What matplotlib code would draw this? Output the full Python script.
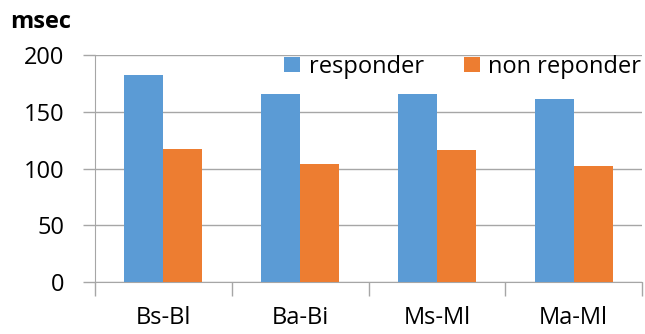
import numpy as np
import matplotlib
matplotlib.use("Agg")
import matplotlib.pyplot as plt

# 데이터
categories = ['Bs-Bl', 'Ba-Bi', 'Ms-Ml', 'Ma-Ml']
responder = [182, 166, 166, 161]
non_responder = [117, 104, 116, 102]

plt.rcParams['font.family'] = ['Open Sans', 'DejaVu Sans']

fig = plt.figure(figsize=(6.45, 3.34), dpi=100)
ax = fig.add_axes([95 / 645, 52 / 334, (642 - 95) / 645, (282 - 55) / 334])

x = np.arange(len(categories))
w = 0.285
ax.bar(x - w / 2, responder, w, color='#5B9BD5', label='responder', zorder=3)
ax.bar(x + w / 2, non_responder, w, color='#ED7D31', label='non reponder', zorder=3)

ax.set_xlim(-0.5, len(categories) - 0.5)
ax.set_ylim(0, 200)
ax.set_yticks([0, 50, 100, 150, 200])
ax.yaxis.grid(True, color='#a6a6a6', linewidth=1, zorder=0)

# x축 눈금은 범주 경계에
ax.set_xticks(np.arange(len(categories) + 1) - 0.5)
ax.set_xticklabels([])
ax.set_xticks(x, minor=True)
ax.set_xticklabels(categories, minor=True, fontsize=17)
ax.tick_params(axis='x', which='minor', length=0, pad=17)
ax.tick_params(axis='x', which='major', length=10, color='#a6a6a6', width=1)
ax.tick_params(axis='y', length=9, color='#a6a6a6', width=1, labelsize=17, pad=13)

for s in ['top', 'right']:
    ax.spines[s].set_visible(False)
for s in ['left', 'bottom']:
    ax.spines[s].set_color('#a6a6a6')

ax.legend(loc='upper right', bbox_to_anchor=(1.016, 1.042), ncol=2, frameon=False,
          fontsize=17, handlelength=0.68, handleheight=0.65, handletextpad=0.35,
          columnspacing=1.7, borderaxespad=0)

fig.text(10 / 645, 1 - 22 / 334, 'msec', fontsize=17, fontweight='bold', va='center')

fig.savefig('out.png', dpi=100)
